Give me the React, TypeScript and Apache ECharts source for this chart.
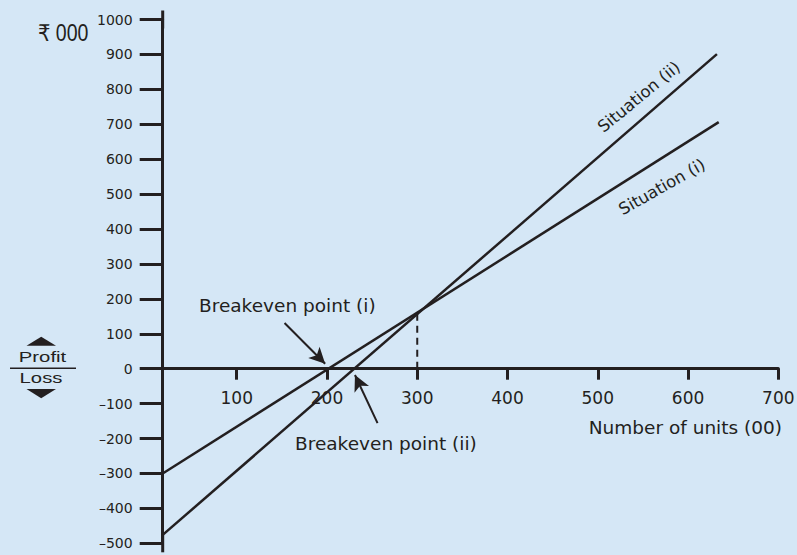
import React, { useEffect, useRef } from "react";
import * as echarts from "echarts";

// ---- data (units in 00, rupees in 000) ----
const X_AXIS_MIN = 18; // value where the vertical axis stands
const X_AXIS_MAX = 700;
const Y_AXIS_MIN = -500;
const Y_AXIS_MAX = 1000;
const Y_INTERVAL = 100;

const situationI: [number, number][] = [
  [18, -300],
  [634, 706],
];
const situationII: [number, number][] = [
  [18, -476],
  [632, 901],
];
const crossover: [number, number][] = [
  [300, 0],
  [300, 160],
];
const arrowBreakevenI: [number, number][] = [
  [153, 131],
  [198, 14],
];
const arrowBreakevenII: [number, number][] = [
  [256, -156],
  [231, -18],
];

const INK = "#231f20";
const BG = "#d5e7f6";
const FONT = "DejaVu Sans";

const W = 797;
const H = 555;
const GRID = { left: 162.7, right: 18.7, top: 19.5, bottom: 11.7 };

export default function App() {
  const ref = useRef<HTMLDivElement>(null);

  useEffect(() => {
    document.body.style.margin = "0";
    if (!ref.current) return;
    const chart = echarts.init(ref.current, undefined, { renderer: "svg" });

    const gridHeight = H - GRID.top - GRID.bottom;
    // distance of the value 0 above the grid's bottom edge
    const zeroOffset = (gridHeight * (0 - Y_AXIS_MIN)) / (Y_AXIS_MAX - Y_AXIS_MIN);

    const option: any = {
      animation: false,
      backgroundColor: BG,
      grid: { ...GRID, containLabel: false, outerBoundsMode: "none" },
      xAxis: {
        type: "value",
        min: X_AXIS_MIN,
        max: X_AXIS_MAX,
        splitNumber: 7,
        position: "bottom",
        offset: -zeroOffset,
        splitLine: { show: false },
        axisLine: { show: true, onZero: false, lineStyle: { color: INK, width: 3 } },
        axisTick: { show: true, inside: false, length: 11, lineStyle: { color: INK, width: 3 } },
        axisLabel: {
          margin: 21,
          fontSize: 17,
          fontFamily: FONT,
          color: INK,
          showMinLabel: false,
          formatter: (v: number) => (v % 100 === 0 ? String(v) : ""),
        },
      },
      yAxis: {
        type: "value",
        min: Y_AXIS_MIN,
        max: Y_AXIS_MAX,
        interval: Y_INTERVAL,
        splitLine: { show: false },
        axisLine: {
          show: true,
          onZero: false,
          symbol: ["rect", "rect"],
          symbolSize: [3, 18],
          lineStyle: { color: INK, width: 3 },
        },
        axisTick: { show: true, inside: false, length: 23, lineStyle: { color: INK, width: 3 } },
        axisLabel: {
          margin: 30,
          fontSize: 14,
          fontFamily: FONT,
          color: INK,
          formatter: (v: number) => (v < 0 ? "\u2013" + Math.abs(v) : String(v)),
        },
      },
      series: [
        {
          type: "line",
          name: "Situation (i)",
          data: situationI,
          symbol: "none",
          silent: true,
          lineStyle: { color: INK, width: 2.5 },
          markLine: {
            silent: true,
            symbol: ["none", "arrow"],
            symbolSize: [12, 16],
            label: { show: false },
            lineStyle: { color: INK, width: 2, type: "solid" },
            data: [
              [{ coord: arrowBreakevenI[0] }, { coord: arrowBreakevenI[1] }],
              [{ coord: arrowBreakevenII[0] }, { coord: arrowBreakevenII[1] }],
            ],
          },
        },
        {
          type: "line",
          name: "Situation (ii)",
          data: situationII,
          symbol: "none",
          silent: true,
          lineStyle: { color: INK, width: 2.5 },
        },
        {
          type: "line",
          name: "crossover",
          data: crossover,
          symbol: "none",
          silent: true,
          lineStyle: { color: INK, width: 2, type: [7, 5] },
        },
      ],
      graphic: [
        {
          type: "text",
          x: 38,
          y: 33,
          scaleX: 0.85,
          style: {
            text: "\u20b9 000",
            fontSize: 23,
            fontFamily: "Liberation Sans, DejaVu Sans",
            fill: INK,
            textAlign: "left",
            textVerticalAlign: "middle",
          },
        },
        {
          type: "polygon",
          shape: { points: [[26.5, 345.7], [56, 345.7], [41.2, 336.7]] },
          style: { fill: INK },
        },
        {
          type: "polygon",
          shape: { points: [[26.5, 389], [56, 389], [41.2, 398.3]] },
          style: { fill: INK },
        },
        {
          type: "text",
          x: 42.5,
          y: 357,
          scaleX: 1.45,
          style: {
            text: "Profit",
            fontSize: 14,
            fontFamily: "Liberation Sans",
            fill: INK,
            textAlign: "center",
            textVerticalAlign: "middle",
          },
        },
        {
          type: "line",
          shape: { x1: 10, y1: 368.3, x2: 76, y2: 368.3 },
          style: { stroke: INK, lineWidth: 1.5 },
        },
        {
          type: "text",
          x: 41,
          y: 378,
          scaleX: 1.45,
          style: {
            text: "Loss",
            fontSize: 14,
            fontFamily: "Liberation Sans",
            fill: INK,
            textAlign: "center",
            textVerticalAlign: "middle",
          },
        },
        {
          type: "text",
          x: 199,
          y: 305,
          style: {
            text: "Breakeven point (i)",
            fontSize: 18.5,
            fontFamily: FONT,
            fill: INK,
            textAlign: "left",
            textVerticalAlign: "middle",
          },
        },
        {
          type: "text",
          x: 295,
          y: 443,
          style: {
            text: "Breakeven point (ii)",
            fontSize: 18.5,
            fontFamily: FONT,
            fill: INK,
            textAlign: "left",
            textVerticalAlign: "middle",
          },
        },
        {
          type: "text",
          x: 782,
          y: 427,
          style: {
            text: "Number of units (00)",
            fontSize: 18.5,
            fontFamily: FONT,
            fill: INK,
            textAlign: "right",
            textVerticalAlign: "middle",
          },
        },
        {
          type: "text",
          x: 639,
          y: 97,
          rotation: (39.5 * Math.PI) / 180,
          style: {
            text: "Situation (ii)",
            fontSize: 16.5,
            fontFamily: FONT,
            fill: INK,
            textAlign: "center",
            textVerticalAlign: "middle",
          },
        },
        {
          type: "text",
          x: 662,
          y: 187,
          rotation: (29.5 * Math.PI) / 180,
          style: {
            text: "Situation (i)",
            fontSize: 16.5,
            fontFamily: FONT,
            fill: INK,
            textAlign: "center",
            textVerticalAlign: "middle",
          },
        },
      ],
    };

    chart.setOption(option);
    return () => chart.dispose();
  }, []);

  return <div ref={ref} style={{ width: W, height: H, background: BG }} />;
}
